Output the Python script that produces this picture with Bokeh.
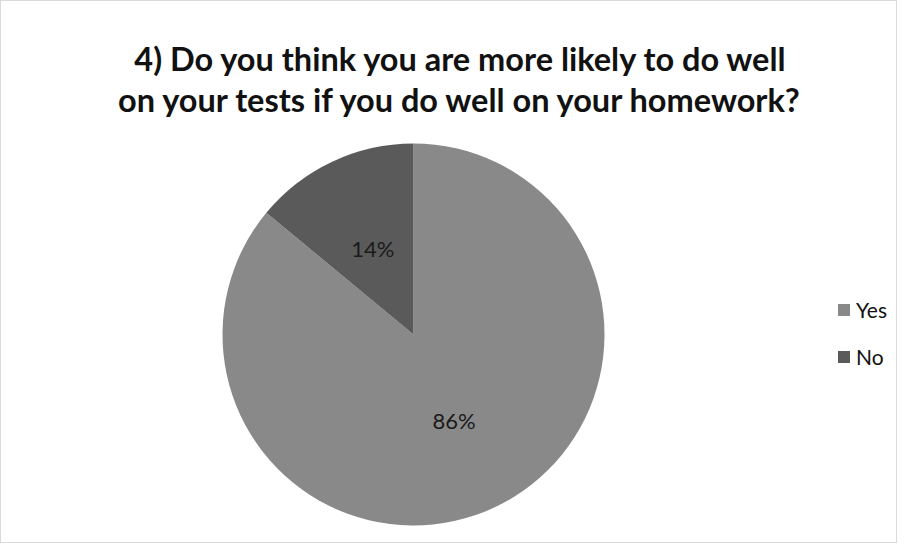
import math
from bokeh.plotting import figure
from bokeh.models import Range1d, ColumnDataSource, Legend, LegendItem
from bokeh.core.properties import value
from bokeh.embed import file_html
from bokeh.resources import INLINE

# ---- data ----
categories = ["Yes", "No"]
percents = [86, 14]
colors = ["#898989", "#5a5a5a"]
title_lines = ["4) Do you think you are more likely to do well",
               "on your tests if you do well on your homework?"]

W, H = 897, 543
p = figure(width=W, height=H, output_backend="svg", toolbar_location=None,
           x_range=Range1d(0, W), y_range=Range1d(0, H), min_border=0)
p.axis.visible = False
p.grid.visible = False
p.outline_line_color = "#b5b5b5"
p.outline_line_width = 1
p.outline_line_dash = "1 1"
p.background_fill_color = "white"

cx, cy, R = 413, 209, 191

# No wedge starts at 12 o'clock and goes counter-clockwise; Yes covers the rest
total = sum(percents)
no_span = percents[1] / total * 2 * math.pi
yes_span = percents[0] / total * 2 * math.pi
start_no = math.pi / 2
end_no = start_no + no_span
starts = [end_no, start_no]
ends = [end_no + yes_span, end_no]
mids = [(s + e) / 2 for s, e in zip(starts, ends)]

src = ColumnDataSource(dict(cat=categories, start=starts, end=ends, color=colors,
                            lx=[cx + 0.5 * R * math.cos(m) for m in mids],
                            ly=[cy + 0.5 * R * math.sin(m) for m in mids],
                            lab=[f"{v}%" for v in percents]))

wr = p.wedge(x=cx, y=cy, radius=R, start_angle="start", end_angle="end",
             fill_color="color", line_color=None, source=src)

p.text(x="lx", y="ly", text="lab", source=src, text_align="center",
       text_baseline="middle", text_font=value("Lato"),
       text_font_size="22px", text_color="#1a1a1a")

# title
p.text(x=[461, 461], y=[H - 58, H - 99], text=title_lines, text_align="center",
       text_baseline="alphabetic", text_font=value("Lato"), text_font_style="bold",
       text_font_size="32.5px", text_color="#111111")

legend = Legend(items=[LegendItem(label=c, renderers=[wr], index=i)
                       for i, c in enumerate(categories)],
                location=(836, 174), orientation="vertical",
                glyph_width=15, glyph_height=15, label_height=25, spacing=22,
                label_standoff=5, padding=0, margin=0,
                label_text_font="Lato", label_text_font_size="21px",
                label_text_color="#111111",
                border_line_color=None, background_fill_alpha=0)
p.add_layout(legend, "center")

open("out.html", "w").write(file_html(p, INLINE))
